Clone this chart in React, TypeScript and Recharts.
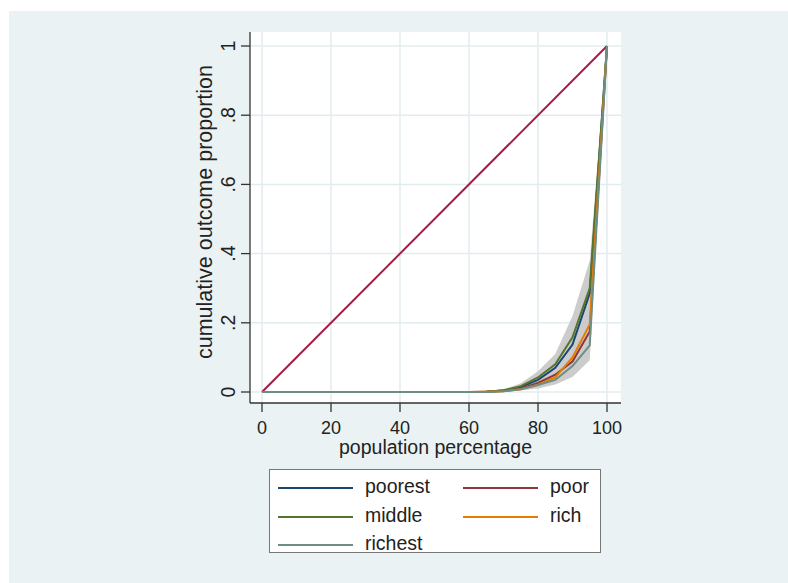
import React from 'react';
import { ComposedChart, Line, Area, XAxis, YAxis, CartesianGrid, Label } from 'recharts';

// population percentage (x) and cumulative outcome proportion per quintile
const popPct = [0, 5, 10, 15, 20, 25, 30, 35, 40, 45, 50, 55, 60, 65, 70, 75, 80, 85, 90, 95, 100];
const poorest = [0, 0, 0, 0, 0, 0, 0, 0, 0, 0, 0, 0, 0, 0.001, 0.004, 0.014, 0.035, 0.07, 0.137, 0.285, 1];
const poor = [0, 0, 0, 0, 0, 0, 0, 0, 0, 0, 0, 0, 0, 0.001, 0.003, 0.01, 0.026, 0.05, 0.088, 0.175, 1];
const middle = [0, 0, 0, 0, 0, 0, 0, 0, 0, 0, 0, 0, 0, 0.001, 0.005, 0.017, 0.042, 0.08, 0.158, 0.3, 1];
const rich = [0, 0, 0, 0, 0, 0, 0, 0, 0, 0, 0, 0, 0, 0.001, 0.002, 0.008, 0.021, 0.042, 0.1, 0.195, 1];
const richest = [0, 0, 0, 0, 0, 0, 0, 0, 0, 0, 0, 0, 0, 0, 0.002, 0.008, 0.02, 0.035, 0.075, 0.135, 1];
const ciLow = [0, 0, 0, 0, 0, 0, 0, 0, 0, 0, 0, 0, 0, 0, 0.001, 0.004, 0.01, 0.022, 0.043, 0.092, 1];
const ciHigh = [0, 0, 0, 0, 0, 0, 0, 0, 0, 0, 0, 0, 0.001, 0.003, 0.008, 0.025, 0.06, 0.11, 0.22, 0.38, 1];

// line of equality
const equalityX = [0, 100];
const equalityY = [0, 1];

const xTicks = [0, 20, 40, 60, 80, 100];
const yTicks = [0, 0.2, 0.4, 0.6, 0.8, 1];
const yTickLabels = ['0', '.2', '.4', '.6', '.8', '1'];

const series = [
  { key: 'poorest', name: 'poorest', color: '#1a476f' },
  { key: 'poor', name: 'poor', color: '#90353b' },
  { key: 'middle', name: 'middle', color: '#55752f' },
  { key: 'rich', name: 'rich', color: '#e37e00' },
  { key: 'richest', name: 'richest', color: '#6e8e84' },
];

const data = popPct.map((x, i) => ({
  x,
  poorest: poorest[i],
  poor: poor[i],
  middle: middle[i],
  rich: rich[i],
  richest: richest[i],
  ci: [ciLow[i], ciHigh[i]],
}));

const equality = equalityX.map((x, i) => ({ x, eq: equalityY[i] }));

const FONT = '"Liberation Sans", Arial, sans-serif';

const YTick = (props: any) => {
  const { x, y, payload } = props;
  const idx = yTicks.indexOf(payload.value);
  const tx = x - 4;
  return (
    <text x={tx} y={y} transform={`rotate(-90 ${tx} ${y})`} textAnchor="middle" fontSize={19.5} fill="#222" fontFamily={FONT}>
      {yTickLabels[idx]}
    </text>
  );
};

const legendRows = [
  [series[0], series[1]],
  [series[2], series[3]],
  [series[4]],
];

const App: React.FC = () => {
  return (
    <div style={{ position: 'absolute', left: 0, top: 0, width: 788, height: 583, background: '#fff', fontFamily: FONT }}>
      <div style={{ position: 'absolute', left: 9, top: 11, right: 0, bottom: 0, background: '#eaf2f3' }} />
      <div style={{ position: 'absolute', left: 0, top: 0 }}>
        <ComposedChart
          width={788}
          height={583}
          data={data}
          margin={{ top: 32, right: 167, left: 190, bottom: 120 }}
        >
          <CartesianGrid fill="#ffffff" stroke="#e2ecef" strokeWidth={1.5} horizontalValues={yTicks} verticalValues={xTicks} />
          <XAxis
            dataKey="x"
            type="number"
            domain={[-3.48, 104.06]}
            ticks={xTicks}
            allowDataOverflow
            height={60}
            tickSize={9}
            tickMargin={9}
            stroke="#333"
            strokeWidth={1.3}
            tick={{ fontSize: 18, fill: '#222', fontFamily: FONT }}
          >
            <Label value="population percentage" position="insideBottom" offset={9} fontSize={19.5} fill="#222" fontFamily={FONT} />
          </XAxis>
          <YAxis
            type="number"
            domain={[-0.0318, 1.0405]}
            ticks={yTicks}
            allowDataOverflow
            width={60}
            tickSize={9}
            tickMargin={2}
            stroke="#333"
            strokeWidth={1.3}
            tick={<YTick />}
          >
            <Label
              content={() => (
                <text x={212} y={212} transform="rotate(-90 212 212)" textAnchor="middle" fontSize={21.5} fill="#222" fontFamily={FONT}>
                  cumulative outcome proportion
                </text>
              )}
            />
          </YAxis>
          <Area dataKey="ci" type="linear" stroke="none" fill="#c6c6c6" fillOpacity={0.9} isAnimationActive={false} />
          <Line data={equality} dataKey="eq" type="linear" stroke="#a51d45" strokeWidth={2} dot={false} isAnimationActive={false} />
          {series.map((s) => (
            <Line key={s.key} dataKey={s.key} name={s.name} type="linear" stroke={s.color} strokeWidth={2} dot={false} isAnimationActive={false} />
          ))}
        </ComposedChart>
      </div>
      <div
        style={{
          position: 'absolute',
          left: 269,
          top: 469,
          width: 332,
          height: 84,
          boxSizing: 'border-box',
          border: '1.5px solid #777',
          background: '#fff',
        }}
      >
        {legendRows.map((row, r) =>
          row.map((s, c) => (
            <React.Fragment key={s.key}>
              <div
                style={{
                  position: 'absolute',
                  left: c === 0 ? 8 : 193,
                  top: 17 + r * 28.5,
                  width: 75,
                  height: 2,
                  background: s.color,
                }}
              />
              <div
                style={{
                  position: 'absolute',
                  left: c === 0 ? 95 : 280,
                  top: 4 + r * 28.5,
                  fontSize: 19.5,
                  lineHeight: '24px',
                  color: '#222',
                }}
              >
                {s.name}
              </div>
            </React.Fragment>
          ))
        )}
      </div>
    </div>
  );
};

export default App;
